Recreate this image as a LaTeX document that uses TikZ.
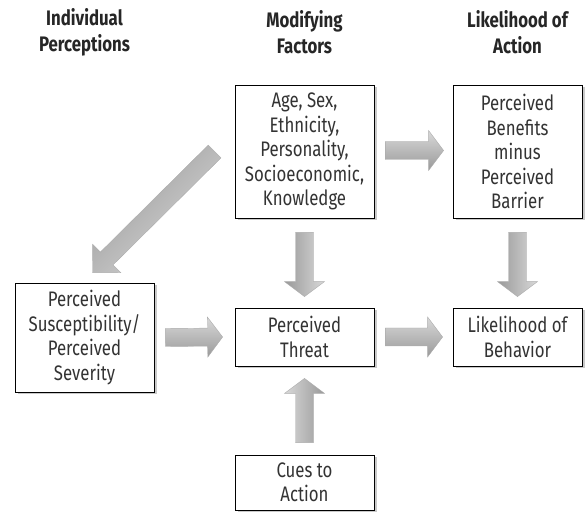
\documentclass[tikz,border=0pt]{standalone}
\usepackage{fontspec}
\setmainfont{Fira Sans}[FakeStretch=0.8]
\usetikzlibrary{calc, shadows, positioning}

% block arrow: [head length]{shading angle}{from}{to}
\newcommand{\blockarrow}[4][15pt]{
  \coordinate (ba-s) at #3;
  \coordinate (ba-e) at #4;
  \coordinate (ba-h) at ($(ba-e)!#1!(ba-s)$);
  \shade[left color=gray!30, right color=gray!80, shading angle=#2, draw=gray!65, line width=0.4pt]
    ($(ba-s)!9pt!90:(ba-e)$) -- ($(ba-h)!9pt!90:(ba-e)$) -- ($(ba-h)!20pt!90:(ba-e)$)
    -- (ba-e) -- ($(ba-h)!20pt!-90:(ba-e)$) -- ($(ba-h)!9pt!-90:(ba-e)$)
    -- ($(ba-s)!9pt!-90:(ba-e)$) -- cycle;
}

\tikzset{
  factor/.style={draw=black, line width=0.8pt, fill=white, align=center, inner sep=0pt,
    text=black!80, font=\fontsize{21}{24.5}\selectfont,
    drop shadow={shadow xshift=2.5pt, shadow yshift=-2.5pt, fill=black!30, opacity=0.7}},
  heading/.style={align=center, text=black!85, font=\bfseries\fontsize{21}{26}\selectfont}
}

\begin{document}
\begin{tikzpicture}[x=1pt, y=1pt]
  \useasboundingbox (0,0) rectangle (587,514);

  % column headings
  \node[heading] (indiv) at (84.5, 482) {Individual\\Perceptions};
  \node[heading] (modif) at (304.5, 482) {Modifying\\Factors};
  \node[heading] (likely) at (517.5, 482) {Likelihood of\\Action};

  % boxes
  \node[factor, minimum width=139pt, minimum height=133pt] (mod) at (304.5, 362.5)
       {Age, Sex,\\Ethnicity,\\Personality,\\Socioeconomic,\\Knowledge};
  \node[factor, minimum width=129pt, minimum height=133pt] (ben) at (517.5, 362.5)
       {Perceived\\Benefits\\minus\\Perceived\\Barrier};
  \node[factor, minimum width=139pt, minimum height=109pt] (sus) at (84.5, 176.5)
       {Perceived\\Susceptibility/\\Perceived\\Severity};
  \node[factor, minimum width=139pt, minimum height=58pt] (thr) at (304.5, 177)
       {Perceived\\Threat};
  \node[factor, minimum width=129pt, minimum height=58pt] (beh) at (517.5, 177)
       {Likelihood of\\Behavior};
  \node[factor, minimum width=139pt, minimum height=55pt] (cue) at (304.5, 31.5)
       {Cues to\\Action};

  % arrows
  \blockarrow[20pt]{225}{($(mod.west)+(-20,0)$)}{($(sus.north)+(8,10)$)}
  \blockarrow{0}{($(mod.east)+(11,1)$)}{($(ben.west)+(-9,1)$)}
  \blockarrow{270}{($(mod.south)+(0,-14)$)}{($(thr.north)+(0,11)$)}
  \blockarrow{270}{($(ben.south)+(0,-14)$)}{($(beh.north)+(0,11)$)}
  \blockarrow{0}{($(sus.east)+(11,0)$)}{($(thr.west)+(-12,0)$)}
  \blockarrow{0}{($(thr.east)+(11,0)$)}{($(beh.west)+(-10,0)$)}
  \blockarrow{90}{($(cue.north)+(0,12)$)}{($(thr.south)+(0,-12)$)}
\end{tikzpicture}
\end{document}
